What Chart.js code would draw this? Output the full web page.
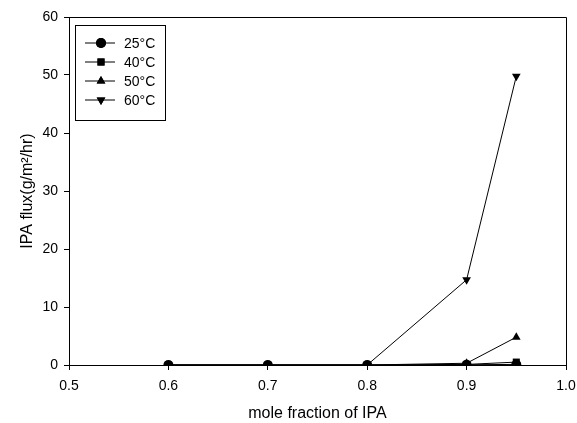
<!DOCTYPE html>
<html>
<head>
<meta charset="utf-8">
<script src="https://cdn.jsdelivr.net/npm/chart.js@4"></script>
<style>
  html, body { margin: 0; padding: 0; background: #fff; }
  #wrap { width: 577px; height: 423px; }
</style>
</head>
<body>
<div id="wrap"><canvas id="myChart" width="577" height="423"></canvas></div>
<script>
// values
const moleFraction = [0.6, 0.7, 0.8, 0.9, 0.95];
const flux25 = [0, 0, 0, 0.05, 0.1];
const flux40 = [0, 0, 0, 0.1, 0.5];
const flux50 = [0, 0, 0, 0.3, 4.8];
const flux60 = [0, 0, 0, 14.7, 49.8];
const seriesLabels = ['25°C', '40°C', '50°C', '60°C'];
const xTicks = [0.5, 0.6, 0.7, 0.8, 0.9, 1.0];
const yTicks = [0, 10, 20, 30, 40, 50, 60];

const fontFam = '"Liberation Sans", Arial, sans-serif';

function toPoints(ys) {
    return moleFraction.map((x, i) => ({ x: x, y: ys[i] }));
}

function makeSet(label, ys, style, rot) {
    return {
        label: label,
        data: toPoints(ys),
        borderColor: '#000',
        backgroundColor: '#000',
        borderWidth: 1,
        pointStyle: style,
        pointRotation: rot,
        pointRadius: 5,
        pointBorderWidth: 0,
        pointBackgroundColor: '#000',
        tension: 0
    };
}

// frame round the plot area and the boxed legend
const framePlugin = {
    id: 'frame',
    afterDraw(chart) {
        const ctx = chart.ctx;
        const a = chart.chartArea;
        ctx.save();
        ctx.strokeStyle = '#000';
        ctx.lineWidth = 1;
        ctx.beginPath();
        ctx.moveTo(Math.round(a.left) + 0.5, Math.round(a.top) + 0.5);
        ctx.lineTo(Math.round(a.right) + 0.5, Math.round(a.top) + 0.5);
        ctx.lineTo(Math.round(a.right) + 0.5, Math.round(a.bottom) + 0.5);
        ctx.stroke();

        // legend box
        const bx = a.left + 6, by = a.top + 8, bw = 90, bh = 95;
        ctx.strokeRect(bx + 0.5, by + 0.5, bw, bh);
        ctx.font = '14px ' + fontFam;
        ctx.fillStyle = '#000';
        ctx.textBaseline = 'middle';
        chart.data.datasets.forEach((ds, i) => {
            const y = by + 18 + i * 19;
            ctx.beginPath();
            ctx.moveTo(bx + 10, y);
            ctx.lineTo(bx + 40, y);
            ctx.stroke();
            Chart.helpers.drawPoint(ctx, {
                pointStyle: ds.pointStyle,
                rotation: ds.pointRotation,
                radius: 5,
                borderWidth: 0
            }, bx + 26, y);
            ctx.fill();
            ctx.fillText(ds.label, bx + 49, y + 1);
        });
        ctx.restore();
    }
};

const ctx = document.getElementById('myChart');

new Chart(ctx, {
    type: 'line',
    data: {
        datasets: [
            makeSet(seriesLabels[0], flux25, 'circle', 0),
            makeSet(seriesLabels[1], flux40, 'rect', 0),
            makeSet(seriesLabels[2], flux50, 'triangle', 0),
            makeSet(seriesLabels[3], flux60, 'triangle', 180)
        ]
    },
    options: {
        responsive: false,
        animation: false,
        layout: { padding: { top: 17, right: 0, left: 0, bottom: 0 } },
        plugins: {
            legend: { display: false },
            tooltip: { enabled: false }
        },
        scales: {
            x: {
                type: 'linear',
                min: 0.5,
                max: 1.0,
                afterBuildTicks: (axis) => { axis.ticks = xTicks.map(v => ({ value: v })); },
                afterFit: (axis) => { axis.height = 58; axis.paddingRight = 11; },
                ticks: {
                    color: '#000',
                    font: { family: fontFam, size: 14 },
                    padding: 8,
                    callback: (v) => v.toFixed(1)
                },
                grid: { drawOnChartArea: false, drawTicks: true, tickLength: 5, color: '#000' },
                border: { color: '#000', width: 1 },
                title: {
                    display: true,
                    text: 'mole fraction of IPA',
                    color: '#000',
                    font: { family: fontFam, size: 16 },
                    padding: { top: 14, bottom: 0 }
                }
            },
            y: {
                min: 0,
                max: 60,
                afterBuildTicks: (axis) => { axis.ticks = yTicks.map(v => ({ value: v })); },
                afterFit: (axis) => { axis.width = 69; },
                ticks: {
                    color: '#000',
                    font: { family: fontFam, size: 14 },
                    padding: 6
                },
                grid: { drawOnChartArea: false, drawTicks: true, tickLength: 5, color: '#000' },
                border: { color: '#000', width: 1 },
                title: {
                    display: true,
                    text: 'IPA flux(g/m²/hr)',
                    color: '#000',
                    font: { family: fontFam, size: 16 },
                    padding: { top: 18, bottom: 8 }
                }
            }
        }
    },
    plugins: [framePlugin]
});
</script>
</body>
</html>
